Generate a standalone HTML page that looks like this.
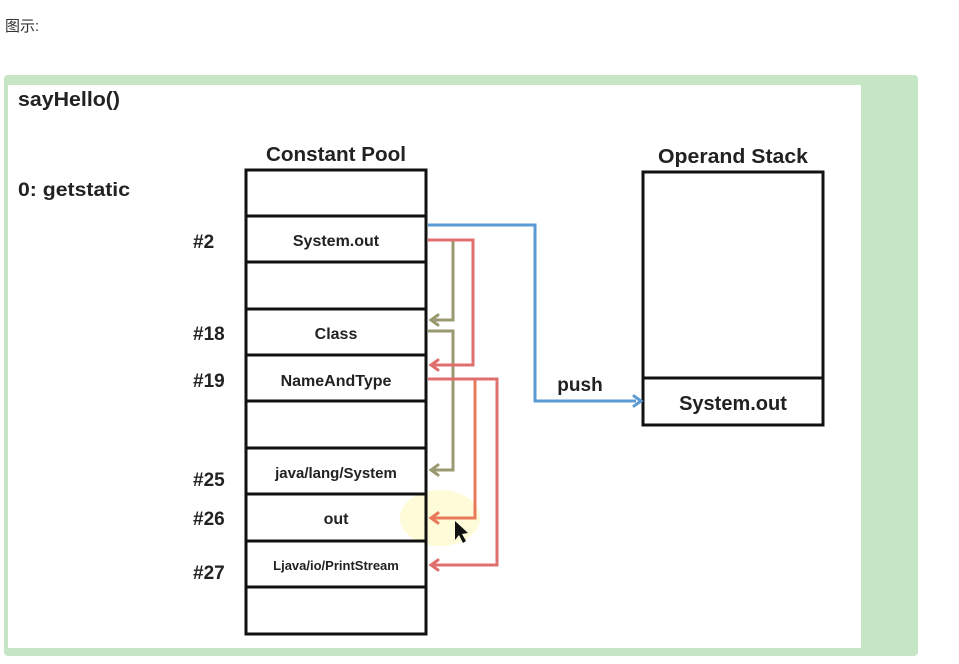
<!DOCTYPE html>
<html><head><meta charset="utf-8"><style>
body{margin:0;background:#fff;width:959px;height:659px;overflow:hidden;font-family:"Liberation Sans","Noto Sans CJK SC",sans-serif}
</style></head><body>
<svg width="959" height="659" xmlns="http://www.w3.org/2000/svg" font-family="Liberation Sans, Noto Sans CJK SC, sans-serif">
<text x="5" y="31" font-size="15" fill="#333">图示:</text>
<rect x="4" y="75" width="914" height="581" rx="4" fill="#c6e5c4"/>
<rect x="8" y="85" width="853" height="563" fill="#fff"/>
<g font-weight="bold" fill="#222">
<text x="18" y="106" font-size="20" textLength="102" lengthAdjust="spacingAndGlyphs">sayHello()</text>
<text x="18" y="196" font-size="19" textLength="112" lengthAdjust="spacingAndGlyphs">0: getstatic</text>
<text x="266" y="161" font-size="20" textLength="140" lengthAdjust="spacingAndGlyphs">Constant Pool</text>
<text x="658" y="163" font-size="20" textLength="150" lengthAdjust="spacingAndGlyphs">Operand Stack</text>
<g font-size="19"><text x="193" y="248">#2</text><text x="193" y="340">#18</text><text x="193" y="387">#19</text><text x="193" y="486">#25</text><text x="193" y="525">#26</text><text x="193" y="579">#27</text></g>
</g>
<ellipse cx="440" cy="518" rx="40" ry="28" fill="#fdfbd8"/>
<g fill="none" stroke="#111" stroke-width="3">
<rect x="246" y="170" width="180" height="464"/>
<path d="M246 216H426M246 262H426M246 309H426M246 355H426M246 401H426M246 448H426M246 494H426M246 541H426M246 587H426"/>
<rect x="643" y="172" width="180" height="253"/>
<path d="M643 378H823"/>
</g>
<g font-weight="bold" fill="#222" text-anchor="middle">
<text x="336" y="246" font-size="16">System.out</text>
<text x="336" y="339" font-size="16">Class</text>
<text x="336" y="386" font-size="16">NameAndType</text>
<text x="336" y="478" font-size="15">java/lang/System</text>
<text x="336" y="524" font-size="16">out</text>
<text x="336" y="570" font-size="13">Ljava/io/PrintStream</text>
<text x="733" y="410" font-size="20">System.out</text>
<text x="580" y="391" font-size="19">push</text>
</g>
<g fill="none" stroke-width="3">
<path d="M428 225H535V401H636" stroke="#5b9bd5"/>
<path d="M428 240H453V320H432" stroke="#9a9a70"/>
<path d="M428 331H453V470H432" stroke="#9a9a70"/>
<path d="M428 240H473V365H432" stroke="#e07070"/>
<path d="M428 379H475V518H432" stroke="#e87a5a"/>
<path d="M428 379H497V565H432" stroke="#e07070"/>
</g>
<g stroke-width="3" fill="none" stroke-linecap="round">
<path d="M634 396L641 401L634 406" stroke="#5b9bd5"/>
<path d="M438 315L431 320L438 325" stroke="#9a9a70"/>
<path d="M438 465L431 470L438 475" stroke="#9a9a70"/>
<path d="M438 360L431 365L438 370" stroke="#e07070"/>
<path d="M438 513L431 518L438 523" stroke="#e87a5a"/>
<path d="M438 560L431 565L438 570" stroke="#e07070"/>
</g>
<path d="M455 521L455 540L459 535L463 543L466 541L462 534L468 533Z" fill="#111"/>
</svg>
</body></html>
